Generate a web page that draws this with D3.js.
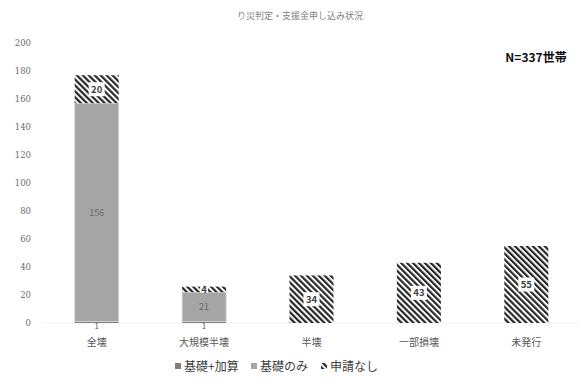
<!DOCTYPE html>
<html>
<head>
<meta charset="utf-8">
<script src="https://cdn.jsdelivr.net/npm/d3@7"></script>
<style>
  html, body { margin: 0; padding: 0; background: #fff; }
  svg { display: block; font-family: "Noto Sans CJK JP", "Noto Sans", sans-serif; }
</style>
</head>
<body>
<svg id="chart" width="586" height="383"></svg>
<script>
// Damage categories and the three application states per category
const categories = ["全壊", "大規模半壊", "半壊", "一部損壊", "未発行"];
const seriesNames = ["基礎+加算", "基礎のみ", "申請なし"];
const basicPlus = [1, 1, 0, 0, 0];
const basicOnly = [156, 21, 0, 0, 0];
const noApplication = [20, 4, 34, 43, 55];
const yTicks = [0, 20, 40, 60, 80, 100, 120, 140, 160, 180, 200];

const svg = d3.select("#chart");
const W = 586, H = 383;
const margin = { top: 43, right: 6, bottom: 60, left: 43 };

// Hatch pattern for "no application"
const defs = svg.append("defs");
const pat = defs.append("pattern")
  .attr("id", "hatch")
  .attr("patternUnits", "userSpaceOnUse")
  .attr("width", 4.2).attr("height", 4.2)
  .attr("patternTransform", "rotate(-45)");
pat.append("rect").attr("width", 4.2).attr("height", 4.2).attr("fill", "#fff");
pat.append("rect").attr("width", 2.2).attr("height", 4.2).attr("fill", "#262626");

const x = d3.scaleBand()
  .domain(categories)
  .range([margin.left, W - margin.right])
  .paddingInner(0.59).paddingOuter(0.295);

const y = d3.scaleLinear().domain([0, 200]).range([323, margin.top]);

// Title
svg.append("text")
  .attr("x", 300).attr("y", 19)
  .attr("text-anchor", "middle")
  .attr("font-size", 9).attr("fill", "#7f7f7f")
  .text("り災判定・支援金申し込み状況");

// Y axis labels
const yAxis = d3.axisLeft(y).tickValues(yTicks).tickSize(0).tickPadding(6);
const gy = svg.append("g")
  .attr("transform", `translate(${margin.left - 6},0)`)
  .call(yAxis);
gy.select(".domain").remove();
gy.selectAll("text")
  .attr("font-size", 8.5).attr("fill", "#6b6b6b")
  .attr("font-family", "'DejaVu Serif', serif");

// Baseline
svg.append("line")
  .attr("x1", margin.left).attr("x2", W - margin.right)
  .attr("y1", y(0)).attr("y2", y(0))
  .attr("stroke", "#f0f0f0");

// Stack the series
const rows = categories.map((c, i) => ({
  cat: c, s0: basicPlus[i], s1: basicOnly[i], s2: noApplication[i]
}));
const stack = d3.stack().keys(["s0", "s1", "s2"]);
const layers = stack(rows);
const fills = ["#7f7f7f", "#a5a5a5", "url(#hatch)"];

layers.forEach((layer, li) => {
  svg.append("g").selectAll("rect")
    .data(layer.filter(d => d[1] - d[0] > 0))
    .join("rect")
    .attr("x", d => x(d.data.cat))
    .attr("width", x.bandwidth())
    .attr("y", d => y(d[1]))
    .attr("height", d => y(d[0]) - y(d[1]))
    .attr("fill", fills[li])
    .attr("stroke", li === 1 ? "#d9d9d9" : "none")
    .attr("stroke-width", 0.8);
});

// Value labels
const labelG = svg.append("g");
rows.forEach((r, i) => {
  // bottom segment values sit just under the bars
  if (r.s0 > 0) {
    labelG.append("text")
      .attr("x", x(r.cat) + x.bandwidth() / 2).attr("y", y(0) + 6)
      .attr("text-anchor", "middle")
      .attr("font-size", 8).attr("fill", "#595959")
      .text(r.s0);
  }
  if (r.s1 > 0) {
    labelG.append("text")
      .attr("x", x(r.cat) + x.bandwidth() / 2)
      .attr("y", y(r.s0 + r.s1 / 2) + 3.5)
      .attr("text-anchor", "middle")
      .attr("font-size", 9).attr("fill", "#6b6b6b")
      .text(r.s1);
  }
  if (r.s2 > 0) {
    const cy = y(r.s0 + r.s1 + r.s2 / 2);
    const txt = String(r.s2);
    const bw = txt.length > 1 ? 16 : 8;
    const bh = r.s2 < 10 ? 6 : 14;
    labelG.append("rect")
      .attr("x", x(r.cat) + x.bandwidth() / 2 - bw / 2)
      .attr("y", cy - bh / 2)
      .attr("width", bw).attr("height", bh)
      .attr("fill", "#fff");
    labelG.append("text")
      .attr("x", x(r.cat) + x.bandwidth() / 2)
      .attr("y", cy + 3.5)
      .attr("text-anchor", "middle")
      .attr("font-size", 9.5).attr("font-weight", "bold").attr("fill", "#404040")
      .text(txt);
  }
});

// Category labels
svg.append("g").selectAll("text")
  .data(categories)
  .join("text")
  .attr("x", d => x(d) + x.bandwidth() / 2)
  .attr("y", 346)
  .attr("text-anchor", "middle")
  .attr("font-size", 10).attr("fill", "#595959")
  .text(d => d);

// N annotation
svg.append("text")
  .attr("x", 536).attr("y", 62)
  .attr("text-anchor", "middle")
  .attr("font-size", 12).attr("font-weight", "bold").attr("fill", "#111")
  .text("N=337世帯");

// Legend
const legendFills = ["#7f7f7f", "#a5a5a5", "url(#hatch)"];
const legendX = [175, 251, 321];
const lg = svg.append("g");
seriesNames.forEach((name, i) => {
  lg.append("rect")
    .attr("x", legendX[i]).attr("y", 363)
    .attr("width", 6).attr("height", 6)
    .attr("fill", legendFills[i]);
  lg.append("text")
    .attr("x", legendX[i] + 9).attr("y", 370.5)
    .attr("font-size", 12).attr("fill", "#404040")
    .text(name);
});
</script>
</body>
</html>
